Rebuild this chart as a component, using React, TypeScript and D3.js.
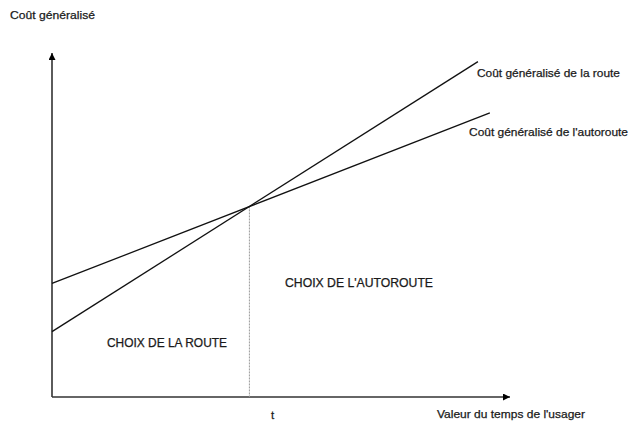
import React from "react";
import * as d3 from "d3";

const routeLine: [number, number][] = [[0, 19], [93, 97.5]];
const autorouteLine: [number, number][] = [[0, 33], [95.6, 82.6]];
const tValue = 43.1;
const tCost = 55.4;

const yTitle = "Coût généralisé";
const xTitle = "Valeur du temps de l'usager";
const routeLabel = "Coût généralisé de la route";
const autorouteLabel = "Coût généralisé de l'autoroute";
const regionLeft = "CHOIX DE LA ROUTE";
const regionRight = "CHOIX DE L'AUTOROUTE";
const tLabel = "t";

export default function App() {
  const W = 629, H = 425;
  const x = d3.scaleLinear().domain([0, 100]).range([52, 510]);
  const y = d3.scaleLinear().domain([0, 100]).range([397, 53]);
  const line = d3.line<[number, number]>().x(d => x(d[0])).y(d => y(d[1]));
  const font = "Arial, 'Liberation Sans', sans-serif";
  const tc = "#1a1a1a";
  const la = "spacingAndGlyphs";
  return (
    <svg width={W} height={H} style={{ position: "absolute", left: 0, top: 0, background: "#fff" }}>
      <defs>
        <marker id="arr" viewBox="0 0 10 10" refX="10" refY="5" markerWidth="7" markerHeight="7" markerUnits="userSpaceOnUse" orient="auto">
          <path d="M0,0 L10,5 L0,10 z" fill="#000" />
        </marker>
      </defs>
      <line x1={x(0)} y1={y(0)} x2={x(0)} y2={y(100)} stroke="#333" strokeWidth={1.6} markerEnd="url(#arr)" />
      <line x1={x(0)} y1={y(0)} x2={x(100)} y2={y(0)} stroke="#333" strokeWidth={1.6} markerEnd="url(#arr)" />
      <line x1={x(tValue)} y1={y(tCost)} x2={x(tValue)} y2={y(0)} stroke="#999" strokeWidth={1} strokeDasharray="2,1" />
      <path d={line(routeLine) || ""} fill="none" stroke="#111" strokeWidth={1.3} />
      <path d={line(autorouteLine) || ""} fill="none" stroke="#111" strokeWidth={1.3} />
      <g fontFamily={font} fill={tc} stroke={tc} strokeWidth={0.25} fontSize={11.5}>
        <text x={10} y={19} textLength={85} lengthAdjust={la}>{yTitle}</text>
        <text x={477} y={77} textLength={143} lengthAdjust={la}>{routeLabel}</text>
        <text x={469} y={136} textLength={159} lengthAdjust={la}>{autorouteLabel}</text>
        <text x={437} y={418} textLength={148} lengthAdjust={la}>{xTitle}</text>
        <text x={271} y={419}>{tLabel}</text>
        <text x={107} y={347} fontSize={12} textLength={120} lengthAdjust={la}>{regionLeft}</text>
        <text x={285} y={287} fontSize={12} textLength={148} lengthAdjust={la}>{regionRight}</text>
      </g>
    </svg>
  );
}
